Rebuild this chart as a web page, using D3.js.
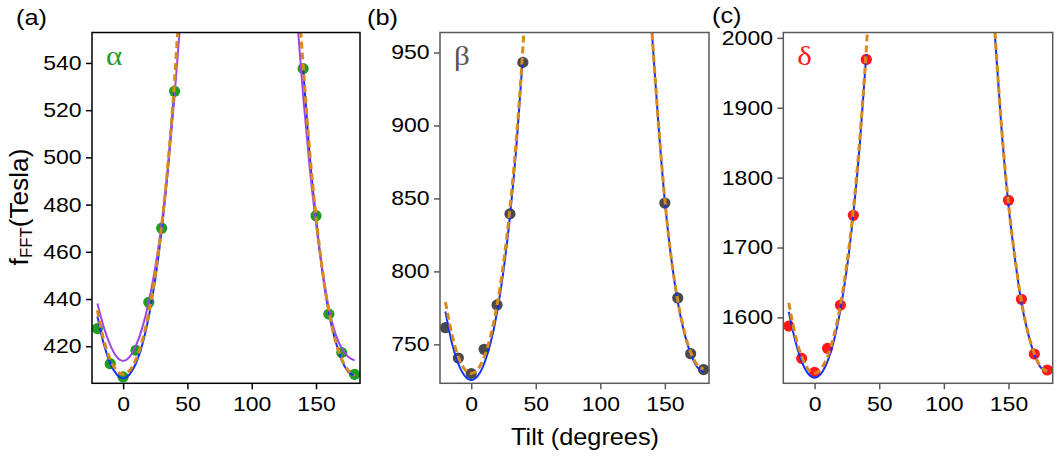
<!DOCTYPE html>
<html>
<head>
<meta charset="utf-8">
<script src="https://cdn.jsdelivr.net/npm/d3@7"></script>
<style>
    body { margin: 0; background: #fff; }
    text { font-family: "Liberation Sans", Arial, sans-serif; }
</style>
</head>
<body>
<div id="chart"></div>
<script>
// measured points
const tiltA = [-20, -10, 0, 10, 20, 30, 40, 140, 150, 160, 170, 180];
const alphaF = [427.5, 412.6, 407, 418.3, 438.6, 470, 528, 537.6, 475.3, 433.6, 417.3, 408.1];
const tiltBC = [-20, -10, 0, 10, 20, 30, 40, 150, 160, 170, 180];
const betaF = [761.4, 740.6, 730, 746.6, 777, 839.4, 943.2, 846.8, 781.8, 743.6, 732.7];
const deltaF = [1587.6, 1541.4, 1521.4, 1555.7, 1617.6, 1746.1, 1969.1, 1767.6, 1626, 1547.6, 1524.7];

// fit curves
const fitL = [-20, -15, -10, -5, 0, 5, 10, 15, 20, 25, 30, 35, 40];
const fitL2 = [-20, -15, -10, -5, 0, 5, 10, 15, 20, 25, 30, 35, 40, 45];
const fitR = [140, 145, 150, 155, 160, 165, 170, 175, 180];
const fitR2 = [135, 140, 145, 150, 155, 160, 165, 170, 175, 180];

const blueAL = [432.7, 420.8, 412.8, 408.1, 406.4, 408.1, 412.8, 420.8, 432.6, 448.5, 469.4, 496.2, 529];
const blueAR = [537, 501, 474, 451.5, 434, 422.5, 414, 409.2, 407.6];
const purpleAL = [438.1, 428, 420.5, 415.5, 413.8, 415.5, 420.3, 428, 439, 453.5, 472, 496, 526, 561];
const purpleAR = [561, 526, 496, 472, 452, 436, 425.5, 419, 415.5, 414];
const orangeAL = [435.3, 422.5, 414.4, 409.7, 408.1, 409.7, 414.4, 422.5, 434.3, 450.3, 471.2, 498.2, 532.7, 577];
const orangeAR = [577, 539, 503, 475, 452, 435, 422.5, 414.5, 409.8, 407.5];

const blueBL = [772.5, 751, 736.7, 728.3, 725.5, 728.3, 736.7, 751, 772, 800.5, 837.7, 885.7, 947];
const blueBR = [1030, 963, 901, 848, 808.5, 779, 758, 743.5, 734.5, 731];
const orangeBL = [779, 757, 741.3, 732.8, 730, 732.8, 741.3, 755.7, 776.8, 805.5, 843, 891, 953, 1032];
const orangeBR = [1031, 964, 902, 849, 809, 780, 759, 744.5, 736, 733];

const blueCL = [1608, 1567, 1537, 1519.5, 1513.7, 1519.5, 1537, 1567, 1611, 1670, 1748, 1848, 1976];
const blueCR = [2140, 1990, 1860, 1760, 1684, 1621, 1578, 1547, 1528, 1522];
const orangeCL = [1621, 1575, 1544, 1526, 1520, 1526, 1544, 1574, 1618, 1677, 1755, 1856, 1984, 2150];
const orangeCR = [2150, 1995, 1864, 1763, 1686, 1623, 1579, 1548, 1529, 1523];

const xTicks = [0, 50, 100, 150];
const yTicksA = [420, 440, 460, 480, 500, 520, 540];
const yTicksB = [750, 800, 850, 900, 950];
const yTicksC = [1600, 1700, 1800, 1900, 2000];

let w = 1061,
    h = 457,
    plotTop = 32.5,
    plotBottom = 383.3,
    stretch = 1.15;

let svg = d3.select('#chart').append('svg')
    .attr('width', w)
    .attr('height', h)
    .style('background-color', '#fff')

let blue = '#1030ff',
    orange = '#d98a1a',
    purple = '#9d45e8';

let panels = [
    { name: '(a)', left: 92, right: 360, yDomain: [404.3, 552.9], yTicks: yTicksA, frame: '#000',
      tilt: tiltA, f: alphaF, dot: '#1f9e1f', greek: 'α', greekColor: '#1f9e1f', labelX: 16, labelY: 25,
      curves: [
          [fitL, blueAL, blue, false], [fitR, blueAR, blue, false],
          [fitL2, purpleAL, purple, false], [fitR2, purpleAR, purple, false],
          [fitL2, orangeAL, orange, true], [fitR2, orangeAR, orange, true]
      ] },
    { name: '(b)', left: 440, right: 709, yDomain: [723.3, 963.7], yTicks: yTicksB, frame: '#5a5a5a',
      tilt: tiltBC, f: betaF, dot: '#4a4a4a', greek: 'β', greekColor: '#555', labelX: 367, labelY: 25,
      curves: [
          [fitL, blueBL, blue, false], [fitR2, blueBR, blue, false],
          [fitL2, orangeBL, orange, true], [fitR2, orangeBR, orange, true]
      ] },
    { name: '(c)', left: 783.3, right: 1052.7, yDomain: [1505.7, 2007.7], yTicks: yTicksC, frame: '#5a5a5a',
      tilt: tiltBC, f: deltaF, dot: '#ff1a1a', greek: 'δ', greekColor: '#ff1a1a', labelX: 712, labelY: 23,
      curves: [
          [fitL, blueCL, blue, false], [fitR2, blueCR, blue, false],
          [fitL2, orangeCL, orange, true], [fitR2, orangeCR, orange, true]
      ] }
];

panels.forEach(function(p, i) {
    let x = d3.scaleLinear().domain([-24.2, 184.2]).range([p.left, p.right]);
    let y = d3.scaleLinear().domain(p.yDomain).range([plotBottom, plotTop]);

    let g = svg.append('g');

    g.append('clipPath').attr('id', 'clip' + i)
        .append('rect')
        .attr('x', p.left).attr('y', plotTop)
        .attr('width', p.right - p.left).attr('height', plotBottom - plotTop);

    // points go under the fits
    g.selectAll('.dot')
        .data(p.tilt.map(function(t, k) { return [t, p.f[k]]; }))
        .enter().append('circle')
        .attr('cx', function(d) { return x(d[0]); })
        .attr('cy', function(d) { return y(d[1]); })
        .attr('r', 5.6)
        .attr('fill', p.dot)

    let line = d3.line()
        .x(function(d) { return x(d[0]); })
        .y(function(d) { return y(d[1]); })
        .curve(d3.curveMonotoneX);

    let cg = g.append('g').attr('clip-path', 'url(#clip' + i + ')');
    p.curves.forEach(function(c) {
        cg.append('path')
            .attr('d', line(c[0].map(function(t, k) { return [t, c[1][k]]; })))
            .attr('fill', 'none')
            .attr('stroke', c[2])
            .attr('stroke-width', c[3] ? 3 : 2)
            .attr('stroke-dasharray', c[3] ? '7,4' : null)
    });

    // frame
    g.append('rect')
        .attr('x', p.left).attr('y', plotTop)
        .attr('width', p.right - p.left).attr('height', plotBottom - plotTop)
        .attr('fill', 'none')
        .attr('stroke', p.frame)
        .attr('stroke-width', 1.5)

    let xAxis = g.append('g')
        .attr('transform', `translate(0,${plotBottom})`)
        .call(d3.axisBottom(x).tickValues(xTicks).tickFormat(d3.format('d')).tickSize(6).tickPadding(8));
    let yAxis = g.append('g')
        .attr('transform', `translate(${p.left},0)`)
        .call(d3.axisLeft(y).tickValues(p.yTicks).tickFormat(d3.format('d')).tickSize(6).tickPadding(3));

    [xAxis, yAxis].forEach(function(ax) {
        ax.select('.domain').remove();
        ax.selectAll('line').attr('stroke', p.frame).attr('stroke-width', 1.5);
        ax.selectAll('text')
            .attr('fill', '#000')
            .style('font-size', '20px')
            .style('font-family', '"Liberation Sans", Arial, sans-serif')
            .attr('transform', `scale(${stretch},1)`);
    });

    svg.append('text')
        .attr('transform', `translate(${p.labelX},${p.labelY}) scale(${stretch},1)`)
        .style('font-size', '22px')
        .text(p.name)

    svg.append('text')
        .attr('transform', `translate(${p.left + 14},${65}) scale(${stretch},1)`)
        .style('font-family', '"Liberation Serif", "Times New Roman", serif')
        .style('font-size', '27px')
        .attr('fill', p.greekColor)
        .text(p.greek)
});

// axis titles
let yl = svg.append('text')
    .attr('transform', 'translate(28,207) rotate(-90) scale(1.05,1)')
    .attr('text-anchor', 'middle')
    .style('font-size', '25px');
yl.append('tspan').text('f');
yl.append('tspan').style('font-size', '16px').attr('dy', 4).text('FFT');
yl.append('tspan').attr('dy', -4).text('(Tesla)');

svg.append('text')
    .attr('transform', `translate(585,445) scale(1.1,1)`)
    .attr('text-anchor', 'middle')
    .style('font-size', '23px')
    .text('Tilt (degrees)')
</script>
</body>
</html>
